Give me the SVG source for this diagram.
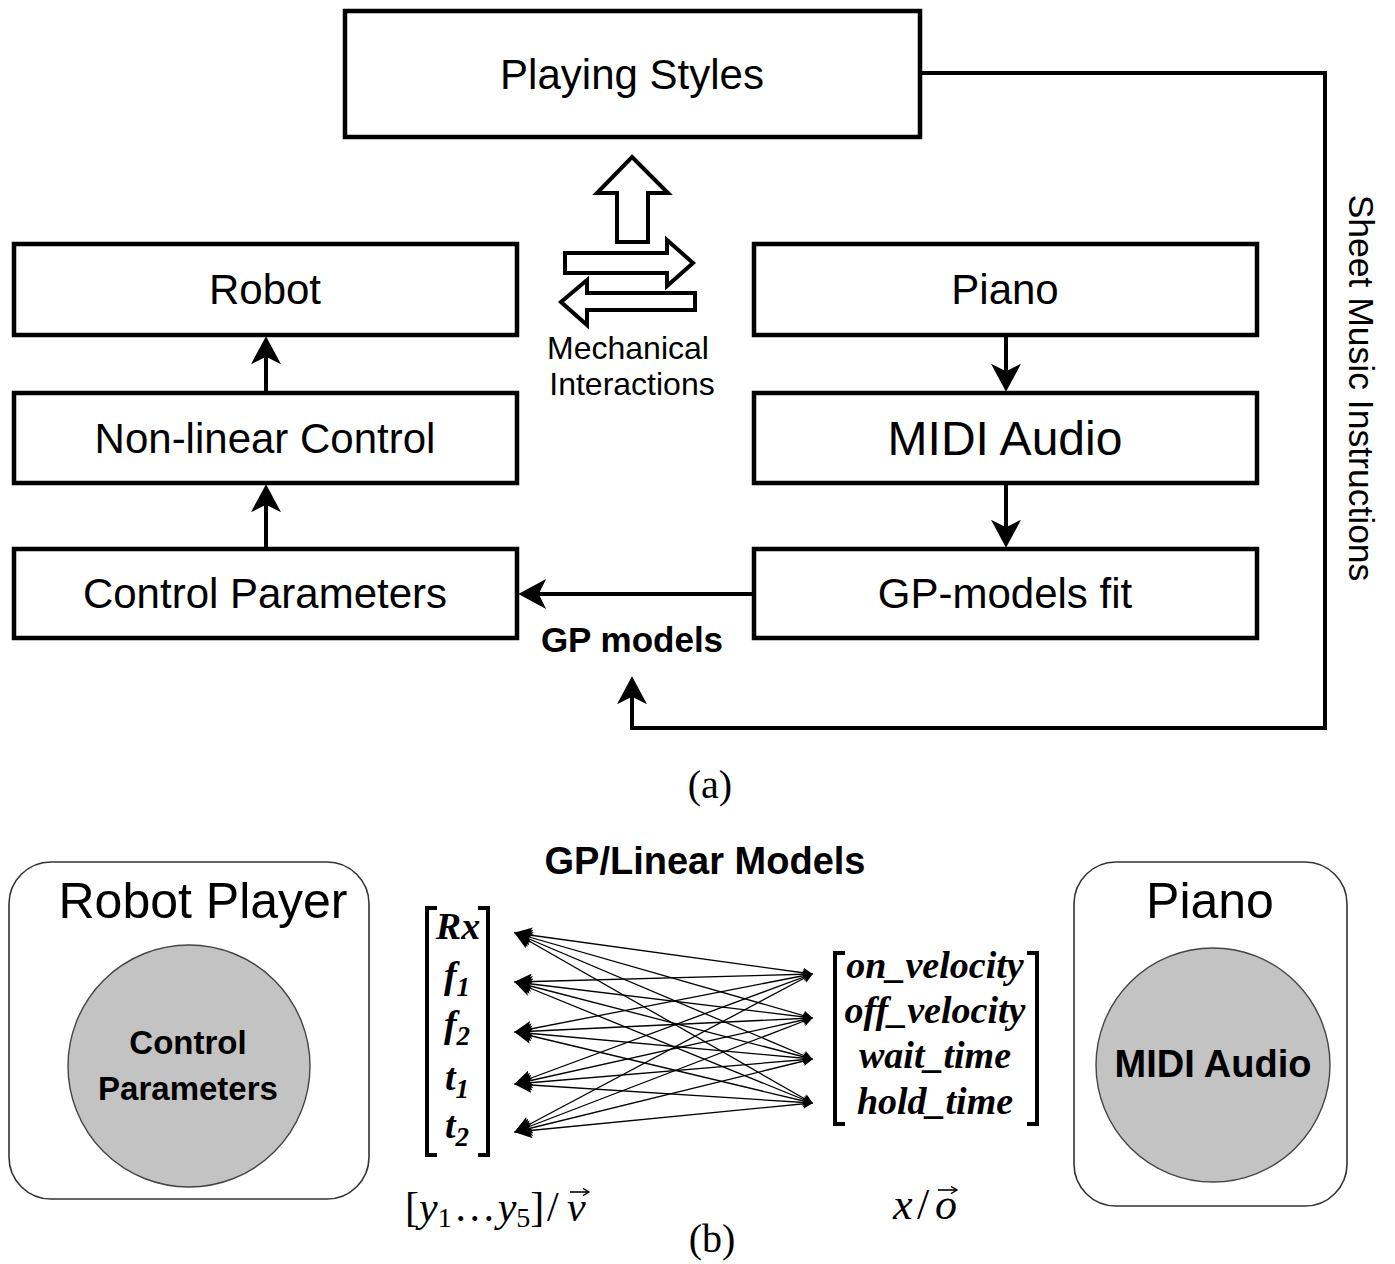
<svg xmlns="http://www.w3.org/2000/svg" width="1395" height="1264" viewBox="0 0 1395 1264">
<style>
.box{fill:#fff;stroke:#000;stroke-width:4.5}
.lbl{font-family:"Liberation Sans",Arial,sans-serif;text-anchor:middle;fill:#000}
.conn{fill:none;stroke:#000;stroke-width:4}
.blk{fill:#fff;stroke:#000;stroke-width:4;stroke-linejoin:miter}
.fan{fill:none;stroke:#000;stroke-width:1.3}
.rr{fill:#fff;stroke:#333;stroke-width:1.6}
.circ{fill:#c3c3c3;stroke:#444;stroke-width:1.4}
.bold{font-family:"Liberation Sans",Arial,sans-serif;font-weight:bold;text-anchor:middle;fill:#000}
.mi{font-family:"Liberation Serif","Times New Roman",serif;font-weight:bold;font-style:italic;font-size:38px;text-anchor:middle;fill:#000}
.math{font-family:"Liberation Serif","Times New Roman",serif;fill:#000}
.cap{font-family:"Liberation Serif","Times New Roman",serif;font-size:40px;text-anchor:middle;fill:#000}
.brk{fill:none;stroke:#000;stroke-width:4}
.vec{fill:none;stroke:#000;stroke-width:1.6}
</style>
<defs>
<marker id="ah" markerUnits="userSpaceOnUse" markerWidth="30" markerHeight="30" viewBox="0 0 26 28" refX="16" refY="14" orient="auto">
<path d="M26,14 L0,0 L7,14 L0,28 Z" fill="#000"/>
</marker>
<marker id="fh" markerUnits="userSpaceOnUse" markerWidth="18" markerHeight="16" viewBox="0 0 18 16" refX="17" refY="8" orient="auto">
<path d="M18,8 L0,0 L4,8 L0,16 Z" fill="#000"/>
</marker>
<marker id="fs" markerUnits="userSpaceOnUse" markerWidth="10" markerHeight="10" viewBox="0 0 10 10" refX="9" refY="5" orient="auto-start-reverse">
<path d="M10,5 L0,0 L2,5 L0,10 Z" fill="#000"/>
</marker>
<marker id="va" markerUnits="userSpaceOnUse" markerWidth="8" markerHeight="8" viewBox="0 0 8 8" refX="7" refY="4" orient="auto">
<path d="M1,0.5 L7,4 L1,7.5" fill="none" stroke="#000" stroke-width="1.4"/>
</marker>
</defs>

<!-- (a) nodes -->
<g id="playing-styles">
<rect class="box" x="345" y="11" width="575" height="126"/>
<text class="lbl" x="632" y="89" style="font-size:42px">Playing Styles</text>
</g>
<g id="robot">
<rect class="box" x="14" y="244" width="503" height="91"/>
<text class="lbl" x="265" y="304" style="font-size:42px">Robot</text>
</g>
<g id="nonlinear-control">
<rect class="box" x="14" y="393" width="503" height="90"/>
<text class="lbl" x="265" y="453" style="font-size:42px">Non-linear Control</text>
</g>
<g id="control-parameters">
<rect class="box" x="14" y="549" width="503" height="89"/>
<text class="lbl" x="265" y="608" style="font-size:42px">Control Parameters</text>
</g>
<g id="piano">
<rect class="box" x="754" y="244" width="503" height="91"/>
<text class="lbl" x="1005" y="304" style="font-size:42px">Piano</text>
</g>
<g id="midi-audio">
<rect class="box" x="754" y="393" width="503" height="90"/>
<text class="lbl" x="1005" y="455" style="font-size:48px">MIDI Audio</text>
</g>
<g id="gp-models-fit">
<rect class="box" x="754" y="549" width="503" height="89"/>
<text class="lbl" x="1005" y="608" style="font-size:42px">GP-models fit</text>
</g>
<g id="mechanical-interactions">
<path class="blk" d="M632,157 L668,193 L648,193 L648,242 L617,242 L617,193 L597,193 Z"/>
<path class="blk" d="M565,253 L667,253 L667,240 L693,263 L667,286 L667,273 L565,273 Z"/>
<path class="blk" d="M695,293 L587,293 L587,280 L561,302 L587,325 L587,310 L695,310 Z"/>
<text class="lbl" x="628" y="359" style="font-size:32px">Mechanical</text>
<text class="lbl" x="632" y="395" style="font-size:32px">Interactions</text>
</g>
<g id="gp-models-label">
<text class="bold" x="632" y="652" style="font-size:35px">GP models</text>
</g>
<g id="sheet-music-label">
<text class="lbl" style="font-size:35.5px" transform="translate(1349,388) rotate(90)">Sheet Music Instructions</text>
</g>
<text class="cap" x="710" y="798">(a)</text>

<!-- (a) connectors -->
<g id="connectors-a">
<line class="conn" x1="266" y1="393" x2="266" y2="347" marker-end="url(#ah)"/>
<line class="conn" x1="266" y1="549" x2="266" y2="495" marker-end="url(#ah)"/>
<line class="conn" x1="1006" y1="335" x2="1006" y2="381" marker-end="url(#ah)"/>
<line class="conn" x1="1006" y1="483" x2="1006" y2="537" marker-end="url(#ah)"/>
<line class="conn" x1="754" y1="594" x2="529" y2="594" marker-end="url(#ah)"/>
<polyline class="conn" points="920,73 1325,73 1325,728 632,728 632,687" marker-end="url(#ah)"/>
</g>

<!-- (b) nodes -->
<g id="robot-player">
<rect class="rr" x="9" y="862" width="360" height="337" rx="42"/>
<text class="lbl" x="203" y="918" style="font-size:50px">Robot Player</text>
<circle class="circ" cx="189" cy="1066" r="121"/>
<text class="bold" x="188" y="1054" style="font-size:33px">Control</text>
<text class="bold" x="188" y="1100" style="font-size:33px">Parameters</text>
</g>
<g id="piano-b">
<rect class="rr" x="1074" y="862" width="273" height="344" rx="42"/>
<text class="lbl" x="1210" y="918" style="font-size:50px">Piano</text>
<circle class="circ" cx="1213" cy="1065" r="117"/>
<text class="bold" x="1213" y="1077" style="font-size:38px">MIDI Audio</text>
</g>
<g id="gp-linear-models">
<text class="bold" x="705" y="874" style="font-size:38px">GP/Linear Models</text>
</g>
<g id="output-vector">
<path class="brk" d="M437,908 L427,908 L427,1155 L437,1155"/>
<path class="brk" d="M478,908 L488,908 L488,1155 L478,1155"/>
<text class="mi" x="458" y="939">Rx</text>
<text class="mi" x="457" y="988">f<tspan style="font-size:27px" dy="8">1</tspan></text>
<text class="mi" x="457" y="1037">f<tspan style="font-size:27px" dy="8">2</tspan></text>
<text class="mi" x="457" y="1090">t<tspan style="font-size:27px" dy="8">1</tspan></text>
<text class="mi" x="457" y="1138">t<tspan style="font-size:27px" dy="8">2</tspan></text>
</g>
<g id="input-vector">
<path class="brk" d="M845,953 L835,953 L835,1124 L845,1124"/>
<path class="brk" d="M1027,953 L1037,953 L1037,1124 L1027,1124"/>
<text class="mi" x="935" y="978">on_velocity</text>
<text class="mi" x="935" y="1023">off_velocity</text>
<text class="mi" x="935" y="1068">wait_time</text>
<text class="mi" x="935" y="1114">hold_time</text>
</g>
<g id="vector-labels">
<text class="math" x="405" y="1221" style="font-size:42px">[<tspan font-style="italic">y</tspan><tspan style="font-size:28px" dy="6">1</tspan><tspan dy="-6" dx="2">…</tspan><tspan font-style="italic" dx="2">y</tspan><tspan style="font-size:28px" dy="6">5</tspan><tspan dy="-6">]</tspan></text>
<text class="math" x="547" y="1221" style="font-size:42px">/</text>
<text class="math" x="567" y="1221" style="font-size:42px;font-style:italic">v</text>
<line class="vec" x1="570" y1="1192" x2="589" y2="1192" marker-end="url(#va)"/>
<text class="math" x="893" y="1219" style="font-size:44px;font-style:italic">x</text>
<text class="math" x="917" y="1219" style="font-size:44px">/</text>
<text class="math" x="935" y="1219" style="font-size:44px;font-style:italic">o</text>
<line class="vec" x1="938" y1="1190" x2="957" y2="1190" marker-end="url(#va)"/>
</g>
<text class="cap" x="712" y="1252">(b)</text>

<!-- (b) connectors -->
<g id="connectors-b">
<line class="fan" x1="812" y1="974" x2="515" y2="933" marker-start="url(#fs)" marker-end="url(#fh)"/>
<line class="fan" x1="812" y1="974" x2="515" y2="982" marker-start="url(#fs)" marker-end="url(#fh)"/>
<line class="fan" x1="812" y1="974" x2="515" y2="1032" marker-start="url(#fs)" marker-end="url(#fh)"/>
<line class="fan" x1="812" y1="974" x2="515" y2="1084" marker-start="url(#fs)" marker-end="url(#fh)"/>
<line class="fan" x1="812" y1="974" x2="515" y2="1132" marker-start="url(#fs)" marker-end="url(#fh)"/>
<line class="fan" x1="812" y1="1018" x2="515" y2="933" marker-start="url(#fs)" marker-end="url(#fh)"/>
<line class="fan" x1="812" y1="1018" x2="515" y2="982" marker-start="url(#fs)" marker-end="url(#fh)"/>
<line class="fan" x1="812" y1="1018" x2="515" y2="1032" marker-start="url(#fs)" marker-end="url(#fh)"/>
<line class="fan" x1="812" y1="1018" x2="515" y2="1084" marker-start="url(#fs)" marker-end="url(#fh)"/>
<line class="fan" x1="812" y1="1018" x2="515" y2="1132" marker-start="url(#fs)" marker-end="url(#fh)"/>
<line class="fan" x1="812" y1="1059" x2="515" y2="933" marker-start="url(#fs)" marker-end="url(#fh)"/>
<line class="fan" x1="812" y1="1059" x2="515" y2="982" marker-start="url(#fs)" marker-end="url(#fh)"/>
<line class="fan" x1="812" y1="1059" x2="515" y2="1032" marker-start="url(#fs)" marker-end="url(#fh)"/>
<line class="fan" x1="812" y1="1059" x2="515" y2="1084" marker-start="url(#fs)" marker-end="url(#fh)"/>
<line class="fan" x1="812" y1="1059" x2="515" y2="1132" marker-start="url(#fs)" marker-end="url(#fh)"/>
<line class="fan" x1="812" y1="1103" x2="515" y2="933" marker-start="url(#fs)" marker-end="url(#fh)"/>
<line class="fan" x1="812" y1="1103" x2="515" y2="982" marker-start="url(#fs)" marker-end="url(#fh)"/>
<line class="fan" x1="812" y1="1103" x2="515" y2="1032" marker-start="url(#fs)" marker-end="url(#fh)"/>
<line class="fan" x1="812" y1="1103" x2="515" y2="1084" marker-start="url(#fs)" marker-end="url(#fh)"/>
<line class="fan" x1="812" y1="1103" x2="515" y2="1132" marker-start="url(#fs)" marker-end="url(#fh)"/>
</g>
</svg>
